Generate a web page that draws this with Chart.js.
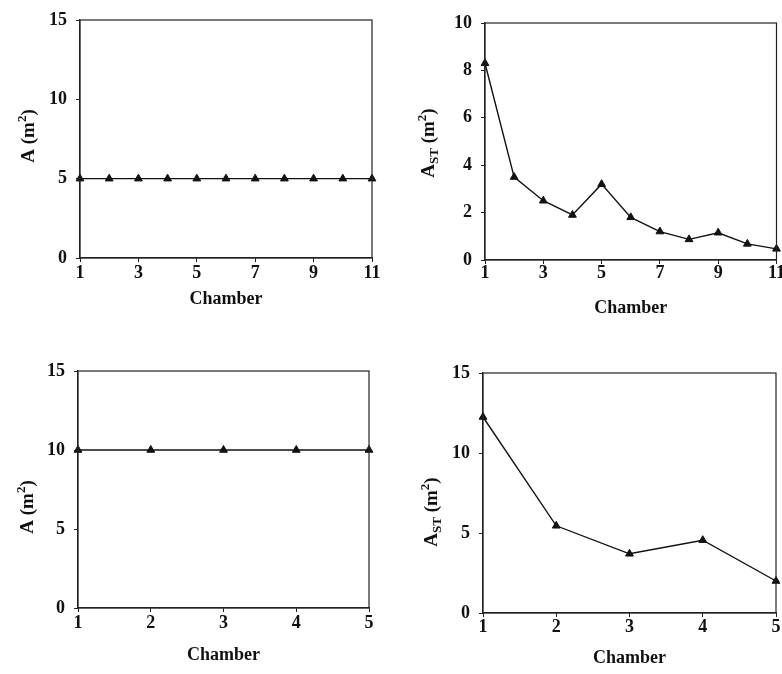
<!DOCTYPE html>
<html>
<head>
<meta charset="utf-8">
<script src="https://cdn.jsdelivr.net/npm/chart.js"></script>
<style>
  html, body { margin: 0; padding: 0; background: #fff; }
  #wrap { position: relative; width: 782px; height: 674px; overflow: hidden; }
  .panel { position: absolute; }
</style>
</head>
<body>
<div id="wrap">
  <div class="panel" style="left:0;top:0;width:391px;height:330px"><canvas id="c1"></canvas></div>
  <div class="panel" style="left:391px;top:0;width:391px;height:330px"><canvas id="c2"></canvas></div>
  <div class="panel" style="left:0;top:330px;width:391px;height:344px"><canvas id="c3"></canvas></div>
  <div class="panel" style="left:391px;top:330px;width:391px;height:344px"><canvas id="c4"></canvas></div>
</div>
<script>
// chamber numbers
const chambers11 = [1, 2, 3, 4, 5, 6, 7, 8, 9, 10, 11];
const chambers5 = [1, 2, 3, 4, 5];

// chamber area A (m2) and stomatal area A_ST (m2)
const areaA11 = [5, 5, 5, 5, 5, 5, 5, 5, 5, 5, 5];
const areaST11 = [8.3, 3.5, 2.5, 1.9, 3.2, 1.8, 1.2, 0.87, 1.15, 0.68, 0.47];
const areaA5 = [10, 10, 10, 10, 10];
const areaST5 = [12.25, 5.45, 3.7, 4.55, 2.0];

// axis titles
const xTitle = 'Chamber';
const titleA = [{ t: 'A (m' }, { t: '2', sup: true }, { t: ')' }];
const titleST = [{ t: 'A' }, { t: 'ST', sub: true }, { t: ' (m' }, { t: '2', sup: true }, { t: ')' }];

const ink = '#111';
const serif = "'Liberation Serif', 'Times New Roman', serif";

// box round the plot area + y title with sub/superscripts
const framePlugin = {
    id: 'frame',
    afterDraw(chart, args, opts) {
        const { ctx, chartArea: a } = chart;
        ctx.save();
        ctx.strokeStyle = '#222';
        ctx.lineWidth = 1.2;
        ctx.strokeRect(a.left, a.top, a.right - a.left, a.bottom - a.top);

        // y title
        const big = 'bold 19px ' + serif;
        const small = 'bold 13px ' + serif;
        let total = 0;
        opts.segments.forEach(s => {
            ctx.font = (s.sub || s.sup) ? small : big;
            s.w = ctx.measureText(s.t).width;
            total += s.w;
        });
        ctx.translate(opts.x, opts.y);
        ctx.rotate(-Math.PI / 2);
        ctx.fillStyle = ink;
        ctx.textBaseline = 'alphabetic';
        ctx.textAlign = 'left';
        let pos = -total / 2;
        opts.segments.forEach(s => {
            ctx.font = (s.sub || s.sup) ? small : big;
            const dy = s.sup ? -8 : (s.sub ? 4 : 0);
            ctx.fillText(s.t, pos, 7 + dy);
            pos += s.w;
        });
        ctx.restore();
    }
};

function makePanel(id, cfg) {
    const canvas = document.getElementById(id);
    const W = canvas.parentNode.clientWidth;
    const H = canvas.parentNode.clientHeight;
    const a = cfg.area;
    return new Chart(canvas, {
        type: 'line',
        data: {
            datasets: [{
                data: cfg.xs.map((x, i) => ({ x: x, y: cfg.ys[i] })),
                borderColor: ink,
                borderWidth: 1.4,
                pointStyle: 'triangle',
                pointRadius: 4.5,
                pointBackgroundColor: ink,
                pointBorderColor: ink,
                pointBorderWidth: 1,
                tension: 0,
                clip: false
            }]
        },
        options: {
            responsive: true,
            maintainAspectRatio: false,
            animation: false,
            layout: { padding: { left: 0, right: W - a.right, top: a.top, bottom: 0 } },
            plugins: {
                legend: { display: false },
                tooltip: { enabled: false },
                frame: { segments: cfg.yTitle, x: cfg.yTitleX, y: cfg.yTitleY }
            },
            scales: {
                x: {
                    type: 'linear',
                    min: cfg.xs[0],
                    max: cfg.xs[cfg.xs.length - 1],
                    afterFit(s) {
                        s.height = H - a.bottom;
                        s.paddingLeft = 0; s.paddingRight = 0;
                    },
                    ticks: {
                        stepSize: cfg.xStep,
                        color: ink,
                        padding: cfg.xTickPad,
                        maxRotation: 0,
                        autoSkip: false,
                        font: { family: serif, size: 18, weight: 'bold' }
                    },
                    grid: { display: true, drawOnChartArea: false, tickLength: 4, color: '#222' },
                    border: { display: true, color: '#222', width: 1.2 },
                    title: {
                        display: true,
                        text: xTitle,
                        color: ink,
                        padding: { top: 0, bottom: cfg.xTitlePad },
                        font: { family: serif, size: 18, weight: 'bold', lineHeight: 1.2 }
                    }
                },
                y: {
                    min: 0,
                    max: cfg.yMax,
                    afterFit(s) {
                        s.width = a.left;
                        s.paddingTop = 0; s.paddingBottom = 0;
                    },
                    ticks: {
                        stepSize: cfg.yStep,
                        color: ink,
                        padding: 9,
                        font: { family: serif, size: 18, weight: 'bold' }
                    },
                    grid: { display: true, drawOnChartArea: false, tickLength: 4, color: '#222' },
                    border: { display: true, color: '#222', width: 1.2 }
                }
            }
        },
        plugins: [framePlugin]
    });
}

makePanel('c1', {
    xs: chambers11, ys: areaA11, xStep: 2, yMax: 15, yStep: 5,
    area: { left: 80, right: 372, top: 20, bottom: 258 },
    xTickPad: 1, xTitlePad: 20,
    yTitle: titleA, yTitleX: 27, yTitleY: 136
});
makePanel('c2', {
    xs: chambers11, ys: areaST11, xStep: 2, yMax: 10, yStep: 2,
    area: { left: 94, right: 386, top: 23, bottom: 260 },
    xTickPad: -1, xTitlePad: 11,
    yTitle: titleST, yTitleX: 36, yTitleY: 143
});
makePanel('c3', {
    xs: chambers5, ys: areaA5, xStep: 1, yMax: 15, yStep: 5,
    area: { left: 78, right: 369, top: 41, bottom: 278 },
    xTickPad: 1, xTitlePad: 8,
    yTitle: titleA, yTitleX: 26, yTitleY: 177
});
makePanel('c4', {
    xs: chambers5, ys: areaST5, xStep: 1, yMax: 15, yStep: 5,
    area: { left: 92, right: 385, top: 43, bottom: 283 },
    xTickPad: 0, xTitlePad: 5,
    yTitle: titleST, yTitleX: 39, yTitleY: 182
});
</script>
</body>
</html>
